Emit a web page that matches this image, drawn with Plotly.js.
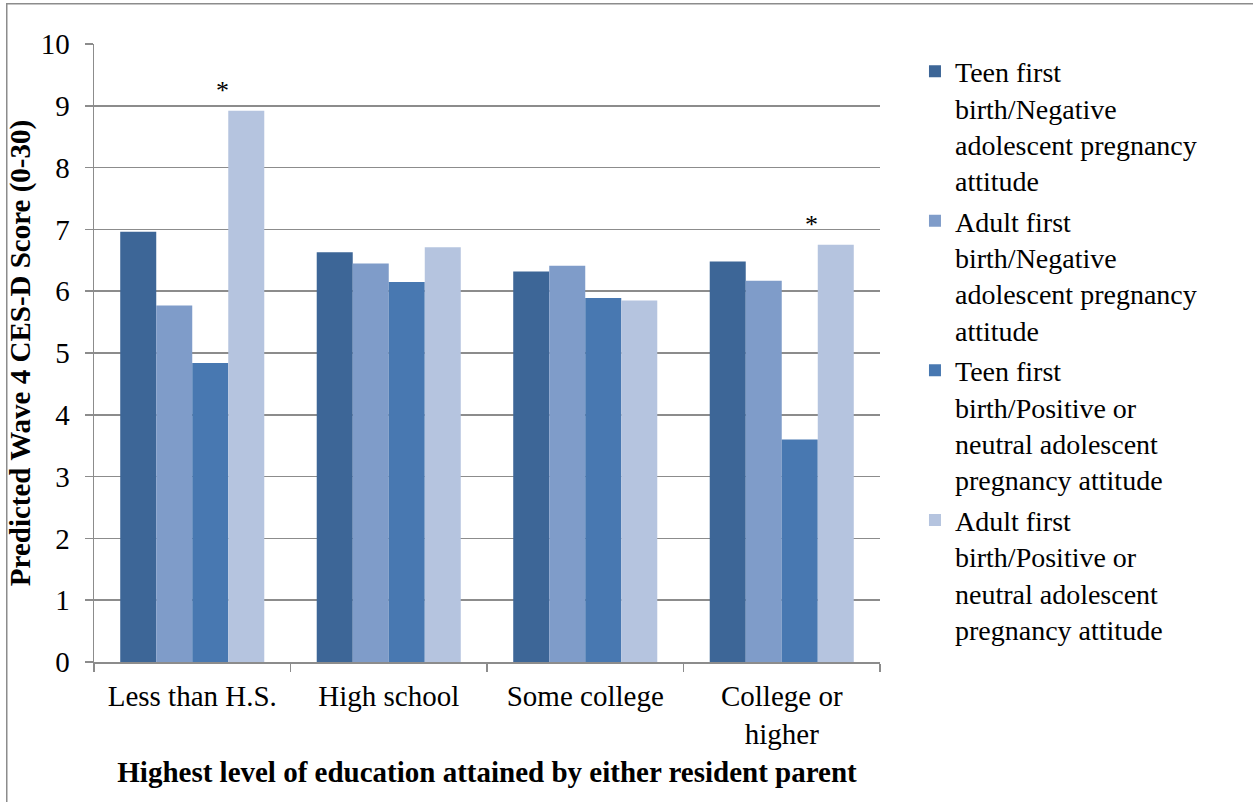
<!DOCTYPE html>
<html>
<head>
<meta charset="utf-8">
<script src="https://cdn.plot.ly/plotly-3.0.1.min.js"></script>
<style>html,body{margin:0;padding:0;background:#fff;}#chart{width:1253px;height:802px;}</style>
</head>
<body>
<div id="chart"></div>
<script>
// Data
const categories = ["Less than H.S.", "High school", "Some college", "College or<br>higher"];
const seriesNames = [
  "Teen first<br>birth/Negative<br>adolescent pregnancy<br>attitude",
  "Adult first<br>birth/Negative<br>adolescent pregnancy<br>attitude",
  "Teen first<br>birth/Positive or<br>neutral adolescent<br>pregnancy attitude",
  "Adult first<br>birth/Positive or<br>neutral adolescent<br>pregnancy attitude"
];
const teenNegative = [6.96, 6.63, 6.32, 6.48];
const adultNegative = [5.77, 6.45, 6.41, 6.17];
const teenPositive = [4.84, 6.15, 5.89, 3.60];
const adultPositive = [8.92, 6.71, 5.85, 6.75];
const seriesValues = [teenNegative, adultNegative, teenPositive, adultPositive];
const colors = ["#3D6697", "#7F9CC9", "#4878B1", "#B5C4DF"];
// significance markers: category index, on series "adultPositive"
const starCategories = [0, 3];

const font = "Liberation Serif, Times New Roman, serif";

const traces = seriesValues.map((vals, i) => ({
  type: "bar",
  name: seriesNames[i],
  x: categories,
  y: vals,
  marker: {color: colors[i], line: {width: 0}},
  legendgroup: "g" + i,
  hoverinfo: "y"
}));

const annotations = starCategories.map(ci => ({
  x: categories[ci],
  y: adultPositive[ci],
  xref: "x", yref: "y",
  text: "*",
  showarrow: false,
  xshift: 30,
  yanchor: "bottom",
  yshift: 4,
  font: {family: font, size: 26, color: "#000"}
}));

const layout = {
  width: 1253, height: 802,
  paper_bgcolor: "#fff", plot_bgcolor: "#fff",
  margin: {l: 94, r: 373, t: 44, b: 140},
  font: {family: font, color: "#000", size: 29},
  barmode: "group",
  bargap: 0.267,
  bargroupgap: 0,
  showlegend: true,
  legend: {
    x: 1.0445, xanchor: "left",
    y: 0.996, yanchor: "top",
    font: {family: font, size: 28, color: "#000"},
    traceorder: "grouped",
    tracegroupgap: 1,
    valign: "top",
    bgcolor: "rgba(0,0,0,0)"
  },
  xaxis: {
    type: "category",
    tickson: "boundaries",
    ticks: "outside", ticklen: 8, tickcolor: "#8c8c8c", tickwidth: 1.5,
    showline: true, linecolor: "#8c8c8c", linewidth: 1.5,
    showgrid: false,
    ticklabelstandoff: 8,
    tickfont: {family: font, size: 29, color: "#000"},
    title: {text: "<b>Highest level of education attained by either resident parent</b>",
            font: {family: font, size: 29, color: "#000"}, standoff: 12}
  },
  yaxis: {
    range: [0, 10], dtick: 1, tick0: 0,
    ticks: "outside", ticklen: 8, tickcolor: "#8c8c8c", tickwidth: 1.5,
    showline: true, linecolor: "#8c8c8c", linewidth: 1.5,
    showgrid: true, gridcolor: "#8c8c8c", gridwidth: 1.5,
    zeroline: false,
    ticklabelstandoff: 9,
    tickfont: {family: font, size: 29, color: "#000"},
    title: {text: "<b>Predicted Wave 4 CES-D Score (0-30)</b>",
            font: {family: font, size: 29, color: "#000"}, standoff: 1}
  },
  annotations: annotations,
  shapes: [{
    type: "rect", xref: "paper", yref: "paper",
    x0: -0.111, x1: 1.6, y0: -0.5, y1: 1.065,
    line: {color: "#8c8c8c", width: 1.5}, fillcolor: "rgba(0,0,0,0)", layer: "below"
  }]
};

Plotly.newPlot("chart", traces, layout, {displayModeBar: false, staticPlot: true});
</script>
</body>
</html>
